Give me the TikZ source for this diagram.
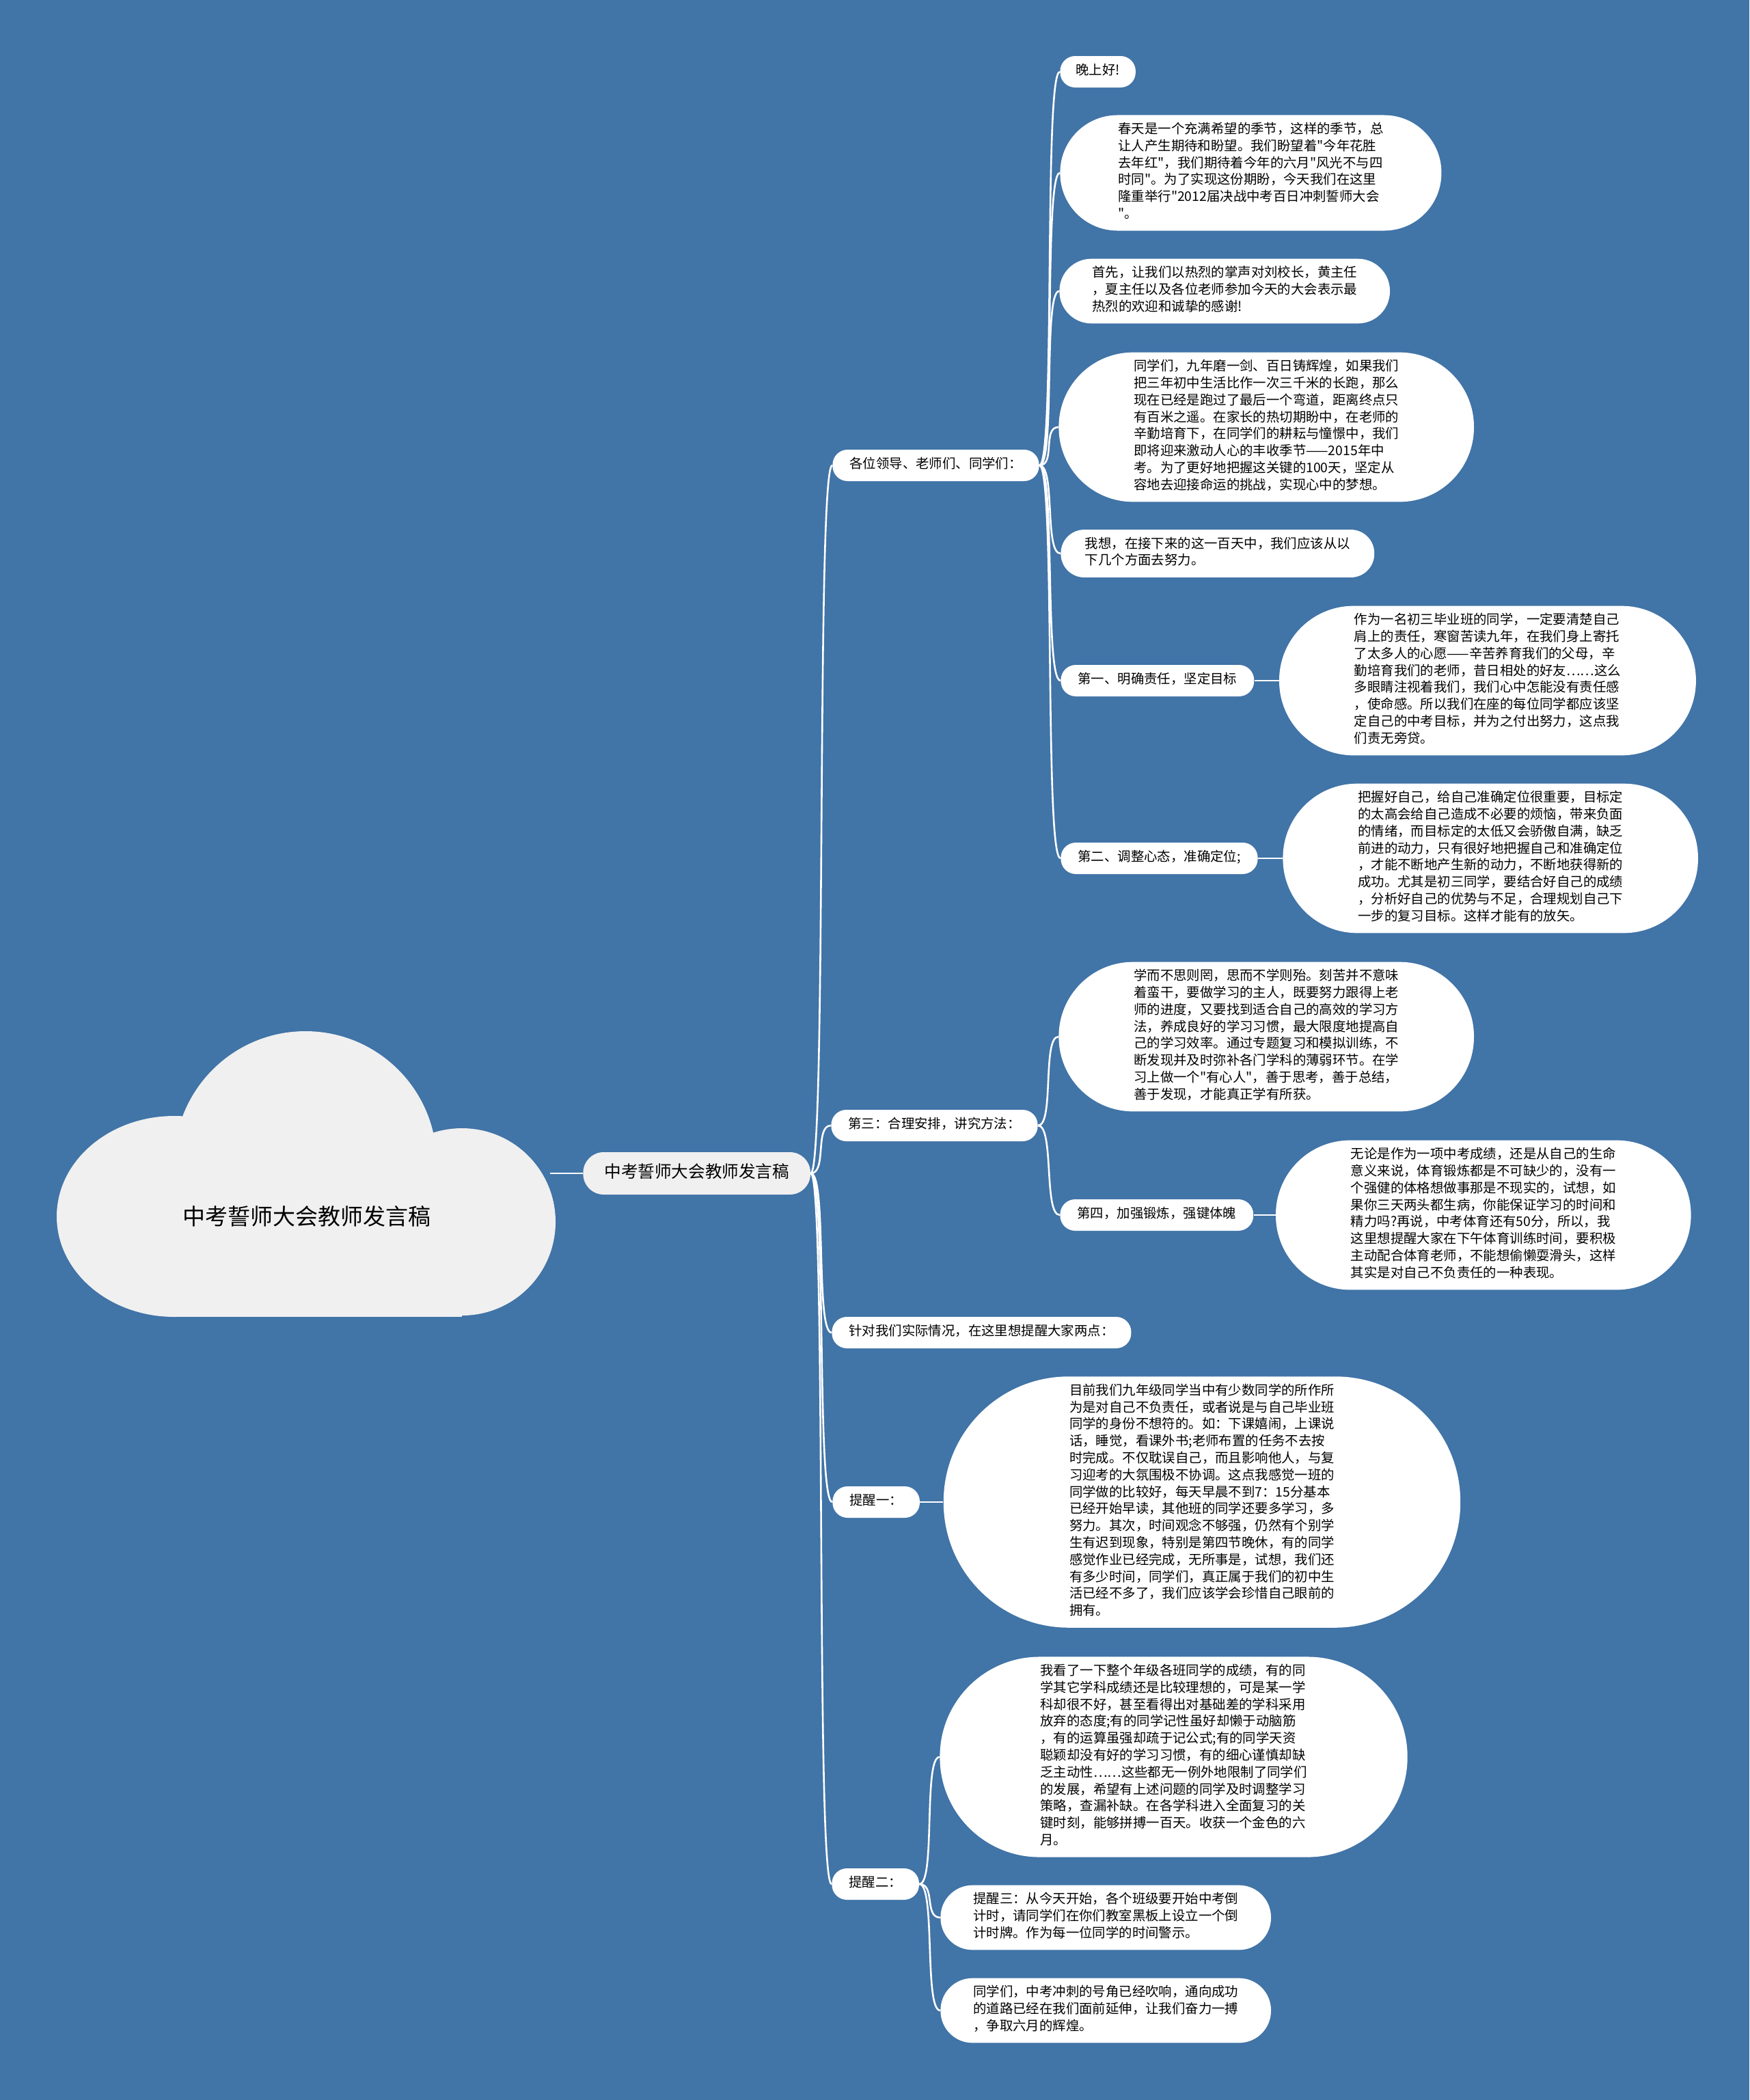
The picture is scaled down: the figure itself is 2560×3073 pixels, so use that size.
\documentclass[tikz,border=0pt]{standalone}
\usepackage{fontspec}
\setmainfont{Noto Sans CJK SC}[Ligatures=TeXOff]
\usetikzlibrary{positioning}

\definecolor{sheet}{RGB}{65,116,167}
\definecolor{puff}{RGB}{240,240,240}

\begin{document}
\begin{tikzpicture}[
    x=0.5pt,
    y=-0.5pt,
    leaf/.style={rectangle, fill=white, rounded corners=#1-0.5pt, inner xsep=#1, inner ysep=5.3pt,
        align=left, anchor=west, font=\fontsize{9.7pt}{12.4pt}\selectfont,
        execute at begin node=\strut, execute at end node=\strut},
    topic/.style={leaf=11.5pt, inner xsep=12.5pt},
    trunk/.style={rectangle, fill=puff, rounded corners=15pt, anchor=west, inner xsep=15.5pt, inner ysep=8pt,
        font=\fontsize{12.3pt}{15pt}\selectfont, execute at begin node=\strut},
    branch/.style={draw=white, line width=1.3pt,
        to path={(\tikztostart.east) .. controls +(12pt,0pt) and +(-12pt,0pt) .. (\tikztotarget.west)}},
    stem/.style={draw=white, line width=1.3pt},
]

    \fill[sheet] (0,0) rectangle (2560,3073);
    \useasboundingbox (0,0) rectangle (2560,3073);

    % cloud
    \fill[puff] (255,1780) ellipse [x radius=86pt, y radius=73.5pt];
    \fill[puff] (447,1701) circle [radius=96pt];
    \fill[puff] (676,1788) circle [radius=68.5pt];
    \fill[puff] (255,1701) rectangle (676,1927);
    \node[font=\fontsize{16.5pt}{20pt}\selectfont] (R) at (449,1780) {中考誓师大会教师发言稿};
    \coordinate (Rtip) at (805,1717);

    \node[trunk] (T) at (853,1717) {中考誓师大会教师发言稿};

    \node[topic] (A)  at (1218,681)  {各位领导、老师们、同学们：};
    \node[leaf=11.5pt] (A1) at (1551,105)  {晚上好!};
    \node[leaf=42.5pt] (A2) at (1551,253)  {春天是一个充满希望的季节，这样的季节，总\\
        让人产生期待和盼望。我们盼望着"今年花胜\\
        去年红"，我们期待着今年的六月"风光不与四\\
        时同"。为了实现这份期盼，今天我们在这里\\
        隆重举行"2012届决战中考百日冲刺誓师大会\\
        "。};
    \node[leaf=23.9pt] (A3) at (1550,426)  {首先，让我们以热烈的掌声对刘校长，黄主任\\
        ，夏主任以及各位老师参加今天的大会表示最\\
        热烈的欢迎和诚挚的感谢!};
    \node[leaf=54.9pt] (A4) at (1549,625)  {同学们，九年磨一剑、百日铸辉煌，如果我们\\
        把三年初中生活比作一次三千米的长跑，那么\\
        现在已经是跑过了最后一个弯道，距离终点只\\
        有百米之遥。在家长的热切期盼中，在老师的\\
        辛勤培育下，在同学们的耕耘与憧憬中，我们\\
        即将迎来激动人心的丰收季节——2015年中\\
        考。为了更好地把握这关键的100天，坚定从\\
        容地去迎接命运的挑战，实现心中的梦想。};
    \node[leaf=17.7pt] (A5) at (1552,810)  {我想，在接下来的这一百天中，我们应该从以\\
        下几个方面去努力。};
    \node[topic] (A6) at (1552,996)  {第一、明确责任，坚定目标};
    \node[leaf=54.9pt, right=18pt of A6] (A6L) {作为一名初三毕业班的同学，一定要清楚自己\\
        肩上的责任，寒窗苦读九年，在我们身上寄托\\
        了太多人的心愿——辛苦养育我们的父母，辛\\
        勤培育我们的老师，昔日相处的好友……这么\\
        多眼睛注视着我们，我们心中怎能没有责任感\\
        ，使命感。所以我们在座的每位同学都应该坚\\
        定自己的中考目标，并为之付出努力，这点我\\
        们责无旁贷。};
    \node[topic] (A7) at (1552,1256) {第二、调整心态，准确定位;};
    \node[leaf=54.9pt, right=18pt of A7] (A7L) {把握好自己，给自己准确定位很重要，目标定\\
        的太高会给自己造成不必要的烦恼，带来负面\\
        的情绪，而目标定的太低又会骄傲自满，缺乏\\
        前进的动力，只有很好地把握自己和准确定位\\
        ，才能不断地产生新的动力，不断地获得新的\\
        成功。尤其是初三同学，要结合好自己的成绩\\
        ，分析好自己的优势与不足，合理规划自己下\\
        一步的复习目标。这样才能有的放矢。};

    \node[topic] (B)  at (1216,1647) {第三：合理安排，讲究方法：};
    \node[leaf=54.9pt] (B1) at (1549,1517) {学而不思则罔，思而不学则殆。刻苦并不意味\\
        着蛮干，要做学习的主人，既要努力跟得上老\\
        师的进度，又要找到适合自己的高效的学习方\\
        法，养成良好的学习习惯，最大限度地提高自\\
        己的学习效率。通过专题复习和模拟训练，不\\
        断发现并及时弥补各门学科的薄弱环节。在学\\
        习上做一个"有心人"，善于思考，善于总结，\\
        善于发现，才能真正学有所获。};
    \node[topic] (B2) at (1551,1778) {第四，加强锻炼，强键体魄};
    \node[leaf=54.9pt, right=16pt of B2] (B2L) {无论是作为一项中考成绩，还是从自己的生命\\
        意义来说，体育锻炼都是不可缺少的，没有一\\
        个强健的体格想做事那是不现实的，试想，如\\
        果你三天两头都生病，你能保证学习的时间和\\
        精力吗?再说，中考体育还有50分，所以，我\\
        这里想提醒大家在下午体育训练时间，要积极\\
        主动配合体育老师，不能想偷懒耍滑头，这样\\
        其实是对自己不负责任的一种表现。};

    \node[topic] (C)  at (1217,1950) {针对我们实际情况，在这里想提醒大家两点：};

    \node[topic] (D)  at (1218,2198) {提醒一：};
    \node[leaf=92.1pt, right=17pt of D] (DL) {目前我们九年级同学当中有少数同学的所作所\\
        为是对自己不负责任，或者说是与自己毕业班\\
        同学的身份不想符的。如：下课嬉闹，上课说\\
        话，睡觉，看课外书;老师布置的任务不去按\\
        时完成。不仅耽误自己，而且影响他人，与复\\
        习迎考的大氛围极不协调。这点我感觉一班的\\
        同学做的比较好，每天早晨不到7：15分基本\\
        已经开始早读，其他班的同学还要多学习，多\\
        努力。其次，时间观念不够强，仍然有个别学\\
        生有迟到现象，特别是第四节晚休，有的同学\\
        感觉作业已经完成，无所事是，试想，我们还\\
        有多少时间，同学们，真正属于我们的初中生\\
        活已经不多了，我们应该学会珍惜自己眼前的\\
        拥有。};

    \node[topic] (E)  at (1217,2757) {提醒二：};
    \node[leaf=73.5pt] (E1) at (1375,2571) {我看了一下整个年级各班同学的成绩，有的同\\
        学其它学科成绩还是比较理想的，可是某一学\\
        科却很不好，甚至看得出对基础差的学科采用\\
        放弃的态度;有的同学记性虽好却懒于动脑筋\\
        ，有的运算虽强却疏于记公式;有的同学天资\\
        聪颖却没有好的学习习惯，有的细心谨慎却缺\\
        乏主动性……这些都无一例外地限制了同学们\\
        的发展，希望有上述问题的同学及时调整学习\\
        策略，查漏补缺。在各学科进入全面复习的关\\
        键时刻，能够拼搏一百天。收获一个金色的六\\
        月。};
    \node[leaf=23.9pt] (E2) at (1376,2806) {提醒三：从今天开始，各个班级要开始中考倒\\
        计时，请同学们在你们教室黑板上设立一个倒\\
        计时牌。作为每一位同学的时间警示。};
    \node[leaf=23.9pt] (E3) at (1376,2942) {同学们，中考冲刺的号角已经吹响，通向成功\\
        的道路已经在我们面前延伸，让我们奋力一搏\\
        ，争取六月的辉煌。};

    \path
        (Rtip) edge [stem]   (T)
        (T)    edge [branch] (A)
        (T)    edge [branch] (B)
        (T)    edge [branch] (C)
        (T)    edge [branch] (D)
        (T)    edge [branch] (E)
        (A)    edge [branch] (A1)
        (A)    edge [branch] (A2)
        (A)    edge [branch] (A3)
        (A)    edge [branch] (A4)
        (A)    edge [branch] (A5)
        (A)    edge [branch] (A6)
        (A)    edge [branch] (A7)
        (A6)   edge [stem]   (A6L)
        (A7)   edge [stem]   (A7L)
        (B)    edge [branch] (B1)
        (B)    edge [branch] (B2)
        (B2)   edge [stem]   (B2L)
        (D)    edge [stem]   (DL)
        (E)    edge [branch] (E1)
        (E)    edge [branch] (E2)
        (E)    edge [branch] (E3)
    ;
\end{tikzpicture}
\end{document}
